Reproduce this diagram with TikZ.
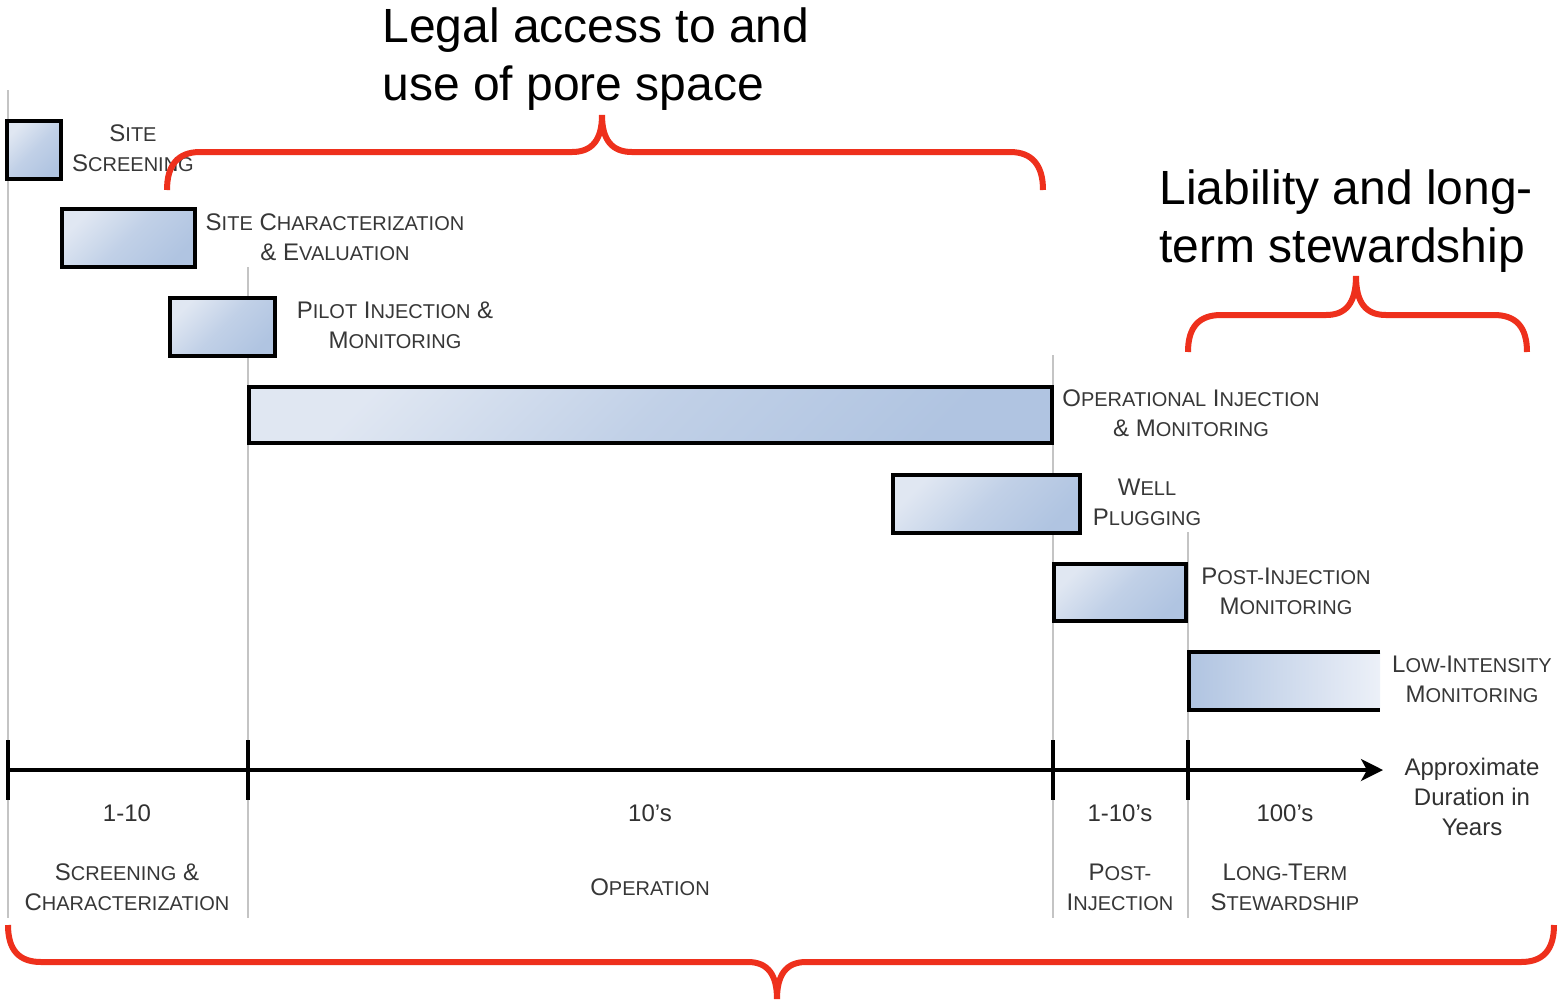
\documentclass[tikz,border=0pt]{standalone}
\usepackage{fontspec}
\setmainfont{Liberation Sans}
\usetikzlibrary{arrows.meta,fit}
\definecolor{bracered}{RGB}{238,48,28}
\definecolor{barlight}{RGB}{224,231,242}
\definecolor{bardark}{RGB}{176,196,225}
\definecolor{barpale}{RGB}{236,240,248}
\definecolor{gridgray}{RGB}{196,196,196}
\definecolor{txt}{RGB}{55,55,55}
\newcommand\sm[1]{{\fontsize{10}{15}\selectfont #1}}
\begin{document}
\begin{tikzpicture}[x=0.5pt,y=-0.5pt,
  bar/.style={draw=black, line width=2pt, inner sep=0pt, top color=barlight, bottom color=bardark, middle color=bardark!65!barlight, shading angle=45},
  lbl/.style={font=\fontsize{12}{15}\selectfont, text=txt, align=center, inner sep=0pt},
  num/.style={font=\fontsize{12}{15}\selectfont, text=txt!90!black, align=center, inner sep=0pt},
  title/.style={font=\fontsize{24}{29}\selectfont, text=black, align=left, inner sep=0pt, anchor=north west},
  gridline/.style={draw=gridgray, line width=1.3pt},
  axisline/.style={draw=black, line width=1.6pt},
  tickline/.style={draw=black, line width=1.6pt},
  brace/.style={draw=bracered, line width=3pt}
]
\fill[white] (0,0) rectangle (1560,1003);
\useasboundingbox (0,0) rectangle (1560,1003);

% vertical grid lines
\draw[gridline] (8,90) -- (8,918);
\draw[gridline] (248,267) -- (248,918);
\draw[gridline] (1053,355) -- (1053,918);
\draw[gridline] (1188,532) -- (1188,918);

% bars
\node[bar, fit={(7,121) (61,179)}] (b1) {};
\node[bar, fit={(62,209) (195,267)}] (b2) {};
\node[bar, fit={(170,298) (275,356)}] (b3) {};
\node[bar, fit={(249,387) (1052,443)}] (b4) {};
\node[bar, fit={(893,475) (1080,533)}] (b5) {};
\node[bar, fit={(1054,564) (1186,621)}] (b6) {};
\node[inner sep=0pt, left color=bardark, right color=barpale, fit={(1189,652) (1380,710)}] (b7) {};
\draw[line width=2pt] (b7.north east) -- (b7.north west) -- (b7.south west) -- (b7.south east);

% bar labels
\node[lbl] (l1) at (133,148) {S\sm{ITE}\\S\sm{CREENING}};
\node[lbl] (l2) at (335,237) {S\sm{ITE} C\sm{HARACTERIZATION}\\\& E\sm{VALUATION}};
\node[lbl] (l3) at (395,325) {P\sm{ILOT} I\sm{NJECTION} \&\\M\sm{ONITORING}};
\node[lbl] (l4) at (1191,413) {O\sm{PERATIONAL} I\sm{NJECTION}\\\& M\sm{ONITORING}};
\node[lbl] (l5) at (1147,502) {W\sm{ELL}\\P\sm{LUGGING}};
\node[lbl] (l6) at (1286,591) {P\sm{OST-}I\sm{NJECTION}\\M\sm{ONITORING}};
\node[lbl] (l7) at (1472,679) {L\sm{OW-}I\sm{NTENSITY}\\M\sm{ONITORING}};

% axis
\coordinate (a0) at (8,770);
\coordinate (aend) at (1383,770);
\draw[axisline, -{Stealth[length=11pt, width=11pt, inset=3pt]}] (a0) -- (aend);
\draw[tickline] (8,740) -- (8,800);
\draw[tickline] (248,740) -- (248,800);
\draw[tickline] (1053,740) -- (1053,800);
\draw[tickline] (1188,740) -- (1188,800);
\node[num] (ax) at (1472,797) {Approximate\\Duration in\\Years};

% durations
\node[num] (d1) at (127,813) {1-10};
\node[num] (d2) at (650,813) {10’s};
\node[num] (d3) at (1120,813) {1-10’s};
\node[num] (d4) at (1285,813) {100’s};

% phases
\node[lbl] (p1) at (127,887) {S\sm{CREENING} \&\\C\sm{HARACTERIZATION}};
\node[lbl] (p2) at (650,887) {O\sm{PERATION}};
\node[lbl] (p3) at (1120,887) {P\sm{OST-}\\I\sm{NJECTION}};
\node[lbl] (p4) at (1285,887) {L\sm{ONG-}T\sm{ERM}\\S\sm{TEWARDSHIP}};

% titles
\node[title] (t1) at (382,7) {Legal access to and\\use of pore space};
\node[title] (t2) at (1159,169) {Liability and long-\\term stewardship};

% braces
\draw[brace] (167,190) .. controls (167,165) and (178,152) .. (200,152) -- (572,152)
  .. controls (592,152) and (602,140) .. (602,115)
  .. controls (602,140) and (612,152) .. (632,152) -- (1010,152)
  .. controls (1032,152) and (1043,165) .. (1043,190);
\draw[brace] (1188,352) .. controls (1188,327) and (1199,315) .. (1221,315) -- (1326,315)
  .. controls (1346,315) and (1356,303) .. (1356,276)
  .. controls (1356,303) and (1366,315) .. (1386,315) -- (1494,315)
  .. controls (1516,315) and (1527,327) .. (1527,352);
\draw[brace] (8,925) .. controls (8,950) and (19,962) .. (41,962) -- (748,962)
  .. controls (768,962) and (777,975) .. (777,999)
  .. controls (777,975) and (786,962) .. (806,962) -- (1521,962)
  .. controls (1543,962) and (1554,950) .. (1554,925);
\end{tikzpicture}
\end{document}
